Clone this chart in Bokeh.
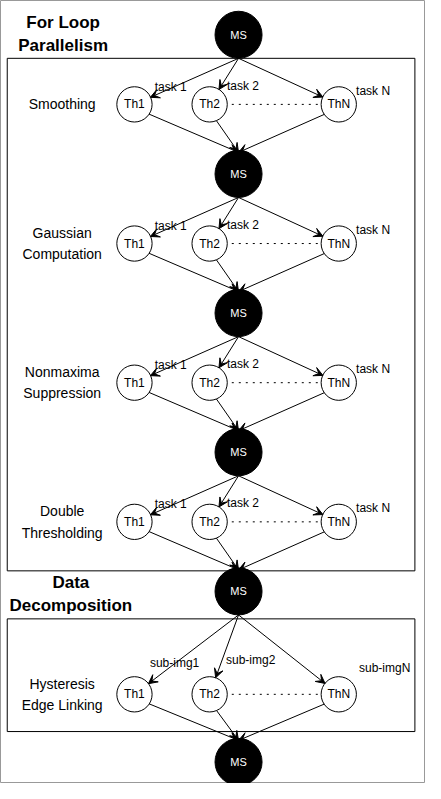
from bokeh.plotting import figure
from bokeh.models import Arrow, VeeHead, Range1d
from bokeh.core.properties import value
from bokeh.embed import file_html
from bokeh.resources import INLINE
import math

# diagram content
ms_y = [35, 177, 319, 461, 603, 777]
th_y = [106, 248, 390, 532, 708]
th_x = [139, 217, 351]
th_names = ["Th1", "Th2", "ThN"]
stage_names = [["Smoothing"], ["Gaussian", "Computation"], ["Nonmaxima", "Suppression"],
               ["Double", "Thresholding"], ["Hysteresis", "Edge Linking"]]
task_labels = ["task 1", "task 2", "task N"]
sub_labels = ["sub-img1", "sub-img2", "sub-imgN"]
ms_x = 247
MS_R = 24
TH_R = 18
FONT = value("Liberation Sans")

p = figure(width=425, height=783, x_range=Range1d(0, 441), y_range=Range1d(799, 0),
           output_backend="svg", toolbar_location=None, min_border=0)
p.axis.visible = False
p.grid.visible = False
p.outline_line_color = "#999999"

# boxes
p.quad(left=[7, 7], right=[430, 430], top=[59, 631], bottom=[582, 746],
       fill_alpha=0, line_color="black", line_width=1)

def edge(x0, y0, x1, y1, r):
    d = math.hypot(x1 - x0, y1 - y0)
    return x1 - (x1 - x0) * r / d, y1 - (y1 - y0) * r / d

for i, ty in enumerate(th_y):
    top = ms_y[i]
    bot = ms_y[i + 1]
    labels = sub_labels if i == 4 else task_labels
    for j, tx in enumerate(th_x):
        sx, sy = ms_x, top + MS_R
        ex, ey = edge(sx, sy, tx, ty, TH_R)
        p.add_layout(Arrow(x_start=sx, y_start=sy, x_end=ex, y_end=ey, line_width=1,
                           end=VeeHead(size=9, fill_color="black", line_color="black")))
        bx, by = edge(ms_x, bot, tx, ty, TH_R)
        p.add_layout(Arrow(x_start=bx, y_start=by, x_end=ms_x, y_end=bot - MS_R + 2, line_width=1,
                           end=VeeHead(size=9, fill_color="black", line_color="black")))
    p.line([th_x[1] + TH_R + 5, th_x[2] - TH_R - 3], [ty, ty], line_dash="2 5", line_color="black")
    p.scatter(th_x, [ty] * 3, size=2 * TH_R * 783 / 799, fill_color="white", line_color="black")
    p.text(th_x, [ty] * 3, text=th_names, text_align="center", text_baseline="middle",
           text_font=FONT, text_font_size="12px")
    off = [(21, -18), (18, -19), (18, -14)] if i < 4 else [(16, -32), (17, -35), (21, -27)]
    p.text([tx + o[0] for tx, o in zip(th_x, off)], [ty + o[1] for o in off], text=labels,
           text_align="left", text_baseline="middle", text_font=FONT, text_font_size="12px")
    lines = stage_names[i]
    ys = [ty] if len(lines) == 1 else [ty - 11, ty + 11]
    p.text([64] * len(lines), ys, text=lines, text_align="center", text_baseline="middle",
           text_font=FONT, text_font_size="14px")

p.scatter([ms_x] * len(ms_y), ms_y, size=2 * MS_R * 783 / 799, fill_color="black", line_color="black")
p.text([ms_x] * len(ms_y), ms_y, text=["MS"] * len(ms_y), text_align="center", text_baseline="middle",
       text_font=FONT, text_font_size="11px", text_color="white")

p.text([65, 65], [22, 46], text=["For Loop", "Parallelism"], text_align="center", text_baseline="middle",
       text_font=FONT, text_font_size="17px", text_font_style="bold")
p.text([73, 73], [594, 617], text=["Data", "Decomposition"], text_align="center", text_baseline="middle",
       text_font=FONT, text_font_size="17px", text_font_style="bold")

open("out.html", "w").write(file_html(p, INLINE))
